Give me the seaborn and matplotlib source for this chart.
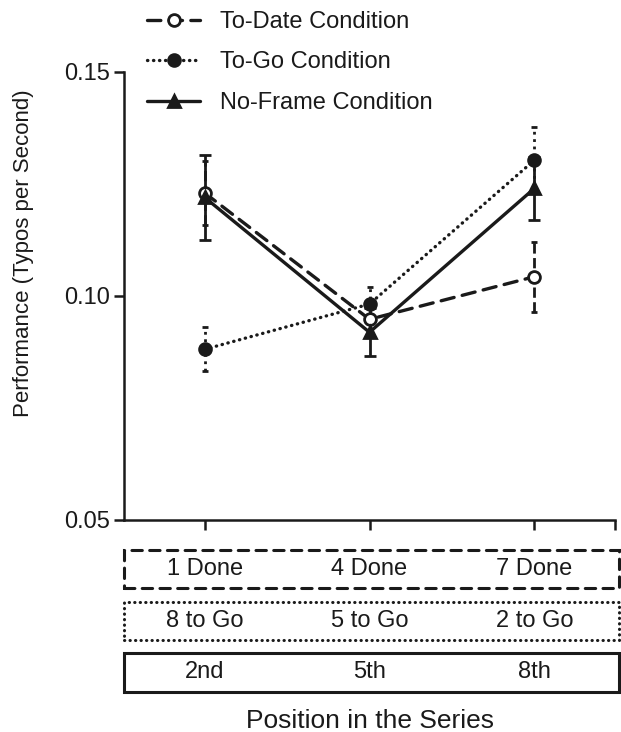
import matplotlib
matplotlib.use('Agg')
import matplotlib.pyplot as plt
import matplotlib.transforms as mtransforms
from matplotlib.patches import Rectangle
import pandas as pd
import seaborn as sns

# Data
positions = ['2nd', '5th', '8th']
done_labels = ['1 Done', '4 Done', '7 Done']
togo_labels = ['8 to Go', '5 to Go', '2 to Go']
conditions = ['To-Date Condition', 'To-Go Condition', 'No-Frame Condition']

to_date = [0.123, 0.0948, 0.1043]
to_date_err = [0.0072, 0.0035, 0.0078]
to_go = [0.0881, 0.0982, 0.1303]
to_go_err = [0.0049, 0.0038, 0.0074]
no_frame = [0.122, 0.0919, 0.124]
no_frame_err = [0.0095, 0.0054, 0.007]

sns.set_style('ticks')
plt.rcParams['font.family'] = ['Liberation Sans', 'DejaVu Sans']
ink = '#1a1a1a'

fig = plt.figure(figsize=(6.21, 7.32), dpi=100)
ax = fig.add_axes([124 / 621, 1 - 520 / 732, (615 - 124) / 621, (520 - 72) / 732])

xs = [0, 1, 2]
dash = (0, (4, 2.5))
dots = (0, (0.1, 1.7))
styles = [
    (to_date, to_date_err, dash, 'o', 'white', '--', 2.5),
    (to_go, to_go_err, dots, 'o', ink, ':', 2.5),
    (no_frame, no_frame_err, '-', '^', ink, '-', 4),
]

for name, (vals, errs, ls, mk, mfc, els, cap) in zip(conditions, styles):
    df = pd.DataFrame({'x': xs, 'y': vals})
    sns.lineplot(data=df, x='x', y='y', ax=ax, color=ink, linewidth=2.4,
                 linestyle=ls, marker=mk, markersize=8.5, markerfacecolor=mfc,
                 markeredgecolor=ink, markeredgewidth=2, label=name,
                 dash_capstyle='round', zorder=3)
    eb = ax.errorbar(xs, vals, yerr=errs, fmt='none', ecolor=ink,
                     elinewidth=2, capsize=cap, capthick=2, zorder=2)
    eb[2][0].set_linestyle(els)

ax.set_xlim(-0.49, 2.49)
ax.set_ylim(0.05, 0.15)
ax.set_yticks([0.05, 0.10, 0.15])
ax.set_yticklabels(['0.05', '0.10', '0.15'], fontsize=17)
ax.set_xticks([0, 1, 2, 2.49])
ax.set_xticklabels([])
ax.set_xlabel('')
ax.set_ylabel('')
ax.tick_params(axis='y', length=7, width=1.8, color=ink, pad=3, labelcolor=ink)
ax.tick_params(axis='x', length=7, width=1.8, color=ink)
for s in ['left', 'bottom']:
    ax.spines[s].set_linewidth(1.8)
    ax.spines[s].set_color(ink)
sns.despine(ax=ax)

leg = ax.legend(loc='upper left', bbox_to_anchor=(147 / 621, 1 - 11 / 732),
                bbox_transform=fig.transFigure, frameon=False, fontsize=17,
                handlelength=2.25, handletextpad=0.85, labelspacing=0.78,
                borderaxespad=0, borderpad=0)
for t in leg.get_texts():
    t.set_color(ink)

# Boxes under the axis
box_left = 124 / 621
box_w = (619 - 124) / 621
rows = [
    (550, 588, (0, (3.4, 2.4)), done_labels),
    (602, 640, dots, togo_labels),
    (653, 692, '-', positions),
]
trans = mtransforms.blended_transform_factory(ax.transData, fig.transFigure)
for top, bot, ls, labels in rows:
    rect = Rectangle((box_left, 1 - bot / 732), box_w, (bot - top) / 732,
                     transform=fig.transFigure, fill=False, linewidth=2.2,
                     linestyle=ls, edgecolor=ink, capstyle='round')
    fig.patches.append(rect)
    yc = 1 - (top + bot) / 2 / 732
    for x, lab in zip(xs, labels):
        t = fig.text(0, yc, lab, transform=trans, ha='center', va='center',
                     fontsize=17, color=ink)
        t.set_x(x)

fig.text(1, 1 - 728 / 732, 'Position in the Series', transform=trans,
         ha='center', va='baseline', fontsize=19, color=ink)
fig.text(24 / 621, 1 - 253 / 732, 'Performance (Typos per Second)', rotation=90,
         ha='center', va='center', fontsize=16, color=ink)

fig.savefig('out.png', dpi=100)
